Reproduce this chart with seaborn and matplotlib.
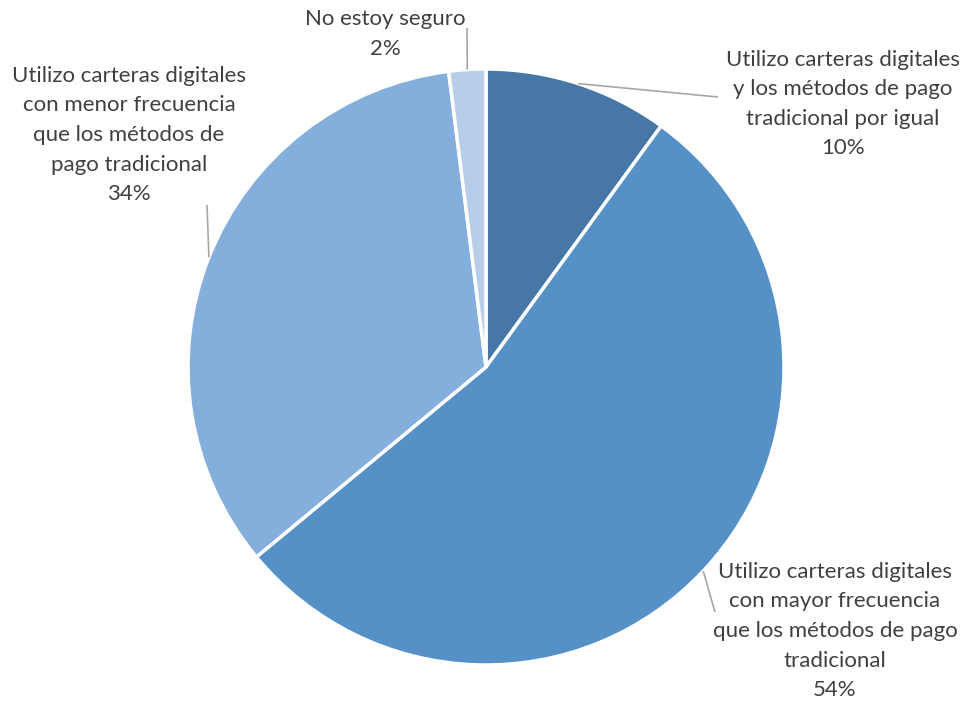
import numpy as np
import matplotlib
matplotlib.use("Agg")
import matplotlib.pyplot as plt
import seaborn as sns

categories = [
    "Utilizo carteras digitales\ny los métodos de pago\ntradicional por igual",
    "Utilizo carteras digitales\ncon mayor frecuencia\nque los métodos de pago\ntradicional",
    "Utilizo carteras digitales\ncon menor frecuencia\nque los métodos de\npago tradicional",
    "No estoy seguro",
]
values = [10, 54, 34, 2]
colors = ["#4677A6", "#5591C7", "#84AEDB", "#B7CDE8"]

sns.set_theme(style="white")
plt.rcParams["font.family"] = ["Lato", "DejaVu Sans"]

W, H = 968, 702
fig = plt.figure(figsize=(W / 100, H / 100), dpi=100)
ax = fig.add_axes([0, 0, 1, 1])
ax.set_xlim(0, W)
ax.set_ylim(0, H)
ax.axis("off")

cx, cy, r = 486, H - 367, 298
wedges, _ = ax.pie(values, colors=colors, startangle=90, counterclock=False,
                   center=(cx, cy), radius=r,
                   wedgeprops=dict(edgecolor="white", linewidth=2.5))
ax.set_xlim(0, W)
ax.set_ylim(0, H)
ax.set_aspect("equal")

# label anchor positions (pixel coords, y down) and leader-line end points
label_pos = [(843, 104), (835, 631), (129, 135), (385, 34)]
leader_end = [(718, 97), (715, 612), (207, 205), (467, 28)]

txt_color = "#404040"
for w, cat, v, (lx, ly), (ex, ey) in zip(wedges, categories, values, label_pos, leader_end):
    ang = np.deg2rad((w.theta1 + w.theta2) / 2)
    sx, sy = cx + r * np.cos(ang), cy + r * np.sin(ang)
    ax.plot([sx, ex], [sy, H - ey], color="#A6A6A6", lw=1.2, solid_capstyle="butt")
    ax.text(lx, H - ly, f"{cat}\n{v}%", ha="center", va="center",
            fontsize=16, color=txt_color, linespacing=1.6)

fig.savefig("out.png", dpi=100, facecolor="white")
